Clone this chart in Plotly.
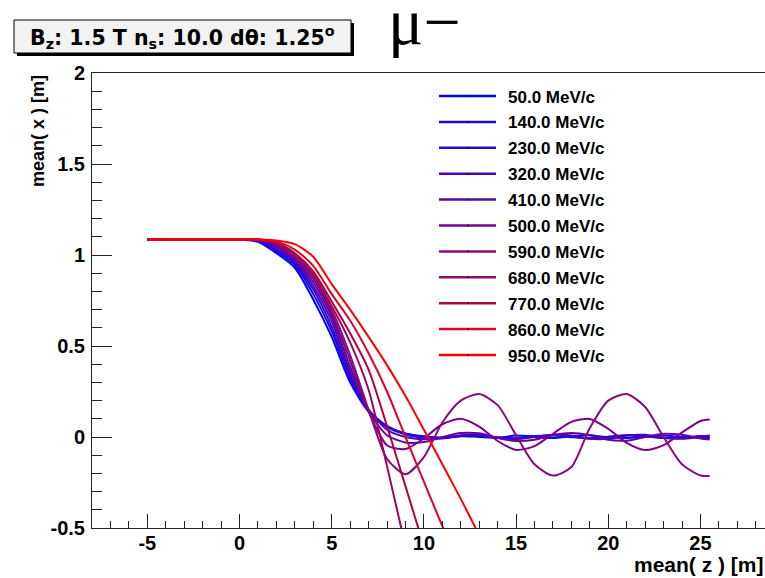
import plotly.graph_objects as go

# ---------------- data ----------------
Z_FULL = [-5, -1, 0, 1, 2, 3, 4, 5, 6, 7, 8, 9, 10, 11, 12, 13, 14, 15, 16, 17,
          18, 19, 20, 21, 22, 23, 24, 25, 25.5]

MOMENTA = ["50.0 MeV/c", "140.0 MeV/c", "230.0 MeV/c", "320.0 MeV/c", "410.0 MeV/c",
           "500.0 MeV/c", "590.0 MeV/c", "680.0 MeV/c", "770.0 MeV/c", "860.0 MeV/c",
           "950.0 MeV/c"]

X_50 = [1.085, 1.085, 1.085, 1.072, 1.01, 0.93, 0.755, 0.55, 0.30, 0.14, 0.06, 0.018, 0.004,
        -0.004, 0.006, 0.0, -0.005, 0.008, 0.002, -0.006, 0.005, 0.009, -0.002, -0.006, 0.004,
        0.008, 0.0, -0.004, -0.005]
X_140 = [1.085, 1.085, 1.085, 1.077, 1.02, 0.945, 0.785, 0.58, 0.32, 0.145, 0.06, 0.02, 0.002,
         -0.006, 0.004, 0.007, -0.003, -0.006, 0.005, 0.008, -0.001, -0.007, 0.002, 0.009, 0.003,
         -0.005, -0.003, 0.004, 0.002]
X_230 = [1.085, 1.085, 1.085, 1.08, 1.03, 0.955, 0.81, 0.605, 0.34, 0.15, 0.055, 0.014, -0.004,
         -0.008, 0.006, 0.01, -0.002, -0.009, 0.002, 0.011, 0.004, -0.008, -0.004, 0.01, 0.006,
         -0.006, -0.006, 0.006, 0.004]
X_320 = [1.085, 1.085, 1.085, 1.082, 1.04, 0.965, 0.83, 0.635, 0.36, 0.15, 0.04, 0.0, -0.012,
         -0.006, 0.01, 0.012, -0.004, -0.012, 0.0, 0.013, 0.008, -0.01, -0.01, 0.008, 0.012,
         -0.004, -0.01, 0.002, 0.008]
X_410 = [1.085, 1.085, 1.085, 1.083, 1.05, 0.975, 0.85, 0.66, 0.385, 0.14, 0.01, -0.03, -0.028,
         0.0, 0.022, 0.02, -0.005, -0.022, -0.015, 0.01, 0.022, 0.01, -0.015, -0.02, 0.0,
         0.018, 0.012, -0.008, -0.014]
X_500 = [1.085, 1.085, 1.085, 1.084, 1.055, 0.985, 0.87, 0.68, 0.42, 0.14, -0.045, -0.066,
         -0.007, 0.07, 0.10, 0.057, -0.022, -0.071, -0.05, 0.018, 0.083, 0.099, 0.045, -0.032,
         -0.072, -0.045, 0.025, 0.088, 0.096]
X_590 = [1.085, 1.085, 1.085, 1.084, 1.06, 0.99, 0.88, 0.70, 0.45, 0.15, -0.12, -0.205, -0.11,
         0.08, 0.20, 0.236, 0.175, 0.01, -0.15, -0.212, -0.165, 0.05, 0.20, 0.236, 0.165, 0.0,
         -0.15, -0.212, -0.214]
X_680 = [1.085, 1.085, 1.085, 1.085, 1.065, 1.0, 0.895, 0.72, 0.52, 0.26, -0.16, -0.60]
X_770 = [1.085, 1.085, 1.085, 1.085, 1.07, 1.01, 0.91, 0.745, 0.57, 0.37, 0.06, -0.27, -0.60]
X_860 = [1.085, 1.085, 1.085, 1.085, 1.075, 1.03, 0.94, 0.785, 0.64, 0.46, 0.25, 0.0, -0.245,
         -0.49, -0.73]
X_950 = [1.085, 1.085, 1.085, 1.085, 1.08, 1.06, 0.99, 0.84, 0.70, 0.55, 0.395, 0.225, 0.04,
         -0.15, -0.34, -0.54]

SERIES = [X_50, X_140, X_230, X_320, X_410, X_500, X_590, X_680, X_770, X_860, X_950]

COLORS = ["#0000ff", "#1a0ae8", "#3006d0", "#4a04b8", "#6202a2", "#78008c", "#8a0a7e",
          "#99085c", "#b0043e", "#dc0428", "#ff0000"]

X_TICKS = [-5, 0, 5, 10, 15, 20, 25]
X_TICK_TEXT = ["-5", "0", "5", "10", "15", "20", "25"]
Y_TICKS = [-0.5, 0, 0.5, 1, 1.5, 2]
Y_TICK_TEXT = ["-0.5", "0", "0.5", "1", "1.5", "2"]

TITLE_TEXT = "B<sub>z</sub>: 1.5 T n<sub>s</sub>: 10.0 dθ: 1.25<sup>o</sup>"
PARTICLE = "μ−"
X_TITLE = "mean( z ) [m]"
Y_TITLE = "mean( x ) [m]"

# ---------------- layout geometry ----------------
W, H = 765, 578
ML, MR, MT, MB = 92, 0, 73, 50
PW = W - ML - MR
PH = H - MT - MB


def px(x):
    return (x - ML) / PW


def py(y):
    return (H - MB - y) / PH


BOLD = "Liberation Sans, Arial, Helvetica, sans-serif"
WIDE = "DejaVu Sans, Liberation Sans, sans-serif"

fig = go.Figure()
for name, xs, col in zip(MOMENTA, SERIES, COLORS):
    fig.add_trace(go.Scatter(
        x=Z_FULL[:len(xs)], y=xs, mode="lines", name=name,
        line=dict(color=col, width=2, shape="spline", smoothing=0.7),
        showlegend=False,
    ))

shapes = []
annotations = []

# title box with shadow
shapes.append(dict(type="rect", xref="paper", yref="paper",
                   x0=px(17), x1=px(354), y0=py(23), y1=py(56),
                   fillcolor="black", line=dict(width=0), layer="above"))
shapes.append(dict(type="rect", xref="paper", yref="paper",
                   x0=px(14), x1=px(351), y0=py(20), y1=py(53),
                   fillcolor="#f2f2f2", line=dict(color="black", width=1), layer="above"))
annotations.append(dict(text=TITLE_TEXT, xref="paper", yref="paper",
                        x=px(182), y=py(37), xanchor="center", yanchor="middle",
                        showarrow=False,
                        font=dict(family=WIDE, size=20.5, color="black", weight="bold")))
annotations.append(dict(text=PARTICLE, xref="paper", yref="paper",
                        x=px(386), y=py(22), xanchor="left", yanchor="middle",
                        showarrow=False,
                        font=dict(family="Liberation Serif, Times New Roman, serif",
                                  size=66, color="black")))

# legend
for i, (name, col) in enumerate(zip(MOMENTA, COLORS)):
    yy = 96 + i * 25.9
    shapes.append(dict(type="line", xref="paper", yref="paper",
                       x0=px(439), x1=px(496), y0=py(yy), y1=py(yy),
                       line=dict(color=col, width=2.5)))
    shapes.append(dict(type="rect", xref="paper", yref="paper",
                       x0=px(467), x1=px(468.5), y0=py(yy - 0.7), y1=py(yy + 0.7),
                       fillcolor="black", line=dict(width=0)))
    annotations.append(dict(text=name, xref="paper", yref="paper",
                            x=px(506), y=py(yy + 1), xanchor="left", yanchor="middle",
                            showarrow=False,
                            font=dict(family=BOLD, size=17, color="black", weight="bold")))

# axis titles
annotations.append(dict(text=Y_TITLE, xref="paper", yref="paper",
                        x=px(38), y=py(73), xanchor="center", yanchor="top",
                        textangle=-90, showarrow=False,
                        font=dict(family=BOLD, size=18, color="black", weight="bold")))
annotations.append(dict(text=X_TITLE, xref="paper", yref="paper",
                        x=px(766), y=py(564), xanchor="right", yanchor="middle",
                        showarrow=False,
                        font=dict(family=BOLD, size=21, color="black", weight="bold")))

axis_font = dict(family=BOLD, size=20, color="black", weight="bold")

fig.update_layout(
    width=W, height=H,
    margin=dict(l=ML, r=MR, t=MT, b=MB, pad=0),
    paper_bgcolor="white", plot_bgcolor="white",
    showlegend=False,
    shapes=shapes, annotations=annotations,
    xaxis=dict(range=[-8, 28.5], showgrid=False, zeroline=False,
               showline=True, linecolor="#222222", linewidth=1, mirror=True,
               ticks="inside", ticklen=14, tickcolor="#222222",
               tickvals=X_TICKS, ticktext=X_TICK_TEXT,
               minor=dict(dtick=1, tick0=0, ticks="inside", ticklen=7, tickcolor="#222222"),
               tickfont=axis_font, ticklabelstandoff=-3, automargin=False),
    yaxis=dict(range=[-0.5, 2], showgrid=False, zeroline=False,
               showline=True, linecolor="#222222", linewidth=1, mirror=False,
               ticks="inside", ticklen=20, tickcolor="#222222",
               tickvals=Y_TICKS, ticktext=Y_TICK_TEXT,
               minor=dict(dtick=0.1, tick0=0, ticks="inside", ticklen=10, tickcolor="#222222"),
               tickfont=axis_font, ticklabelstandoff=2, automargin=False),
)

fig.write_html("out.html", config={"displayModeBar": False},
               post_script="document.body.style.margin='0';document.body.style.overflow='hidden';")
